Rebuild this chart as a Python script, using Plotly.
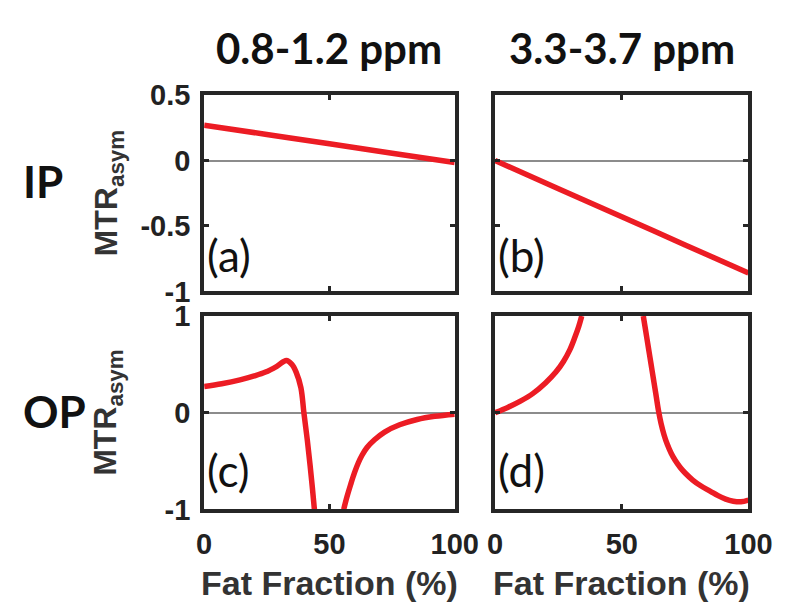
import plotly.graph_objects as go

# ---- data ----
ff_a = [0, 25, 50, 75, 100]
mtr_a = [0.27, 0.199, 0.128, 0.056, -0.015]

ff_b = [0, 25, 50, 75, 100]
mtr_b = [0.0, -0.215, -0.43, -0.645, -0.86]

ff_c1 = [0, 7, 14.3, 20, 24.5, 29, 32.8, 35, 36.7, 38.6, 39.8, 41.2, 42.3, 43.2, 44]
mtr_c1 = [0.27, 0.30, 0.34, 0.38, 0.42, 0.48, 0.54, 0.50, 0.42, 0.26, 0.0, -0.29, -0.55, -0.78, -1.0]
ff_c2 = [55.7, 57, 58.5, 60, 61.5, 63, 65, 68, 72, 78, 85, 92, 100]
mtr_c2 = [-1.0, -0.87, -0.74, -0.62, -0.52, -0.44, -0.36, -0.28, -0.20, -0.125, -0.07, -0.037, -0.015]

ff_d1 = [0, 5, 10, 15, 20, 24, 27, 29.5, 31.5, 33, 34.2]
mtr_d1 = [0.0, 0.055, 0.12, 0.20, 0.31, 0.42, 0.53, 0.65, 0.78, 0.89, 1.0]
ff_d2 = [58.5, 59.5, 60.5, 61.5, 62.5, 63.5, 64.5, 65.5, 66.7, 68, 69.5, 71, 73, 75, 78, 81, 85, 88, 91, 94, 97, 100]
mtr_d2 = [1.0, 0.837, 0.674, 0.511, 0.348, 0.185, 0.02, -0.11, -0.23, -0.33, -0.42, -0.49, -0.564, -0.624, -0.696,
          -0.753, -0.813, -0.858, -0.894, -0.915, -0.921, -0.903]

col_titles = ["0.8-1.2 ppm", "3.3-3.7 ppm"]
row_titles = ["IP", "OP"]
panel_labels = ["(a)", "(b)", "(c)", "(d)"]
x_ticks = [0, 50, 100]
y_ticks_top = [-1, -0.5, 0, 0.5]
y_ticks_top_text = ["-1", "-0.5", "0", "0.5"]
y_ticks_bot = [-1, 0, 1]
y_ticks_bot_text = ["-1", "0", "1"]
x_label = "Fat Fraction (%)"
y_label = "MTR<sub>asym</sub>"

# ---- layout geometry (pixels in an 800x616 canvas) ----
W, H = 800, 616
def px(x):
    return x / W
def py(y):
    return 1 - y / H

col_x = [(196, 457), (499, 763)]
row_y = [(75, 282), (308, 512)]

RED = "#ec1c24"
FRAME = "#262626"
SANS = "Liberation Sans Narrow, Arial Narrow, Liberation Sans, Arial, sans-serif"
CAL = "Lato, Open Sans, sans-serif"
TICKFONT = dict(family=SANS, size=29, color="#222222", weight="bold")

fig = go.Figure()

series = [
    [(ff_a, mtr_a)],
    [(ff_b, mtr_b)],
    [(ff_c1, mtr_c1), (ff_c2, mtr_c2)],
    [(ff_d1, mtr_d1), (ff_d2, mtr_d2)],
]

for i in range(4):
    r, c = divmod(i, 2)
    ax = "" if i == 0 else str(i + 1)
    for xs, ys in series[i]:
        fig.add_trace(go.Scatter(x=xs, y=ys, mode="lines",
                                 line=dict(color=RED, width=5.5, shape="spline", smoothing=1.0),
                                 xaxis="x" + ax, yaxis="y" + ax, showlegend=False, hoverinfo="skip"))
    xd = [px(col_x[c][0]), px(col_x[c][1])]
    yd = [py(row_y[r][1]), py(row_y[r][0])]
    top = r == 0
    fig.layout["xaxis" + ax] = dict(
        domain=xd, anchor="y" + ax, range=[0, 100], tickvals=x_ticks,
        showticklabels=(not top), ticks="inside", ticklen=5, tickwidth=3, tickcolor=FRAME,
        showline=True, linewidth=4, linecolor=FRAME, mirror="ticks", showgrid=False,
        zeroline=False, tickfont=TICKFONT, fixedrange=True, ticklabelstandoff=6,
    )
    fig.layout["yaxis" + ax] = dict(
        domain=yd, anchor="x" + ax,
        range=[-1, 0.5] if top else [-1, 1],
        tickvals=y_ticks_top if top else y_ticks_bot,
        ticktext=y_ticks_top_text if top else y_ticks_bot_text,
        showticklabels=(c == 0), ticks="inside", ticklen=5, tickwidth=3, tickcolor=FRAME,
        showline=True, linewidth=4, linecolor=FRAME, mirror="ticks", showgrid=False,
        zeroline=True, zerolinecolor="#8c8c8c", zerolinewidth=2,
        tickfont=TICKFONT, fixedrange=True, ticklabelstandoff=4,
    )

ann = []
# column titles
for c in range(2):
    ann.append(dict(text=col_titles[c], x=px((col_x[c][0] + col_x[c][1]) / 2), y=py(25),
                    xref="paper", yref="paper", showarrow=False, xanchor="center", yanchor="middle",
                    font=dict(family=CAL, size=42, color="#111111", weight="bold")))
# row titles and y labels
for r in range(2):
    ann.append(dict(text=row_titles[r], x=px(5), y=py(166 if r == 0 else 408),
                    xref="paper", yref="paper", showarrow=False, xanchor="left", yanchor="middle",
                    font=dict(family=CAL, size=44, color="#111111", weight="bold")))
    ann.append(dict(text=y_label, x=px(96), y=py((row_y[r][0] + row_y[r][1]) / 2),
                    xref="paper", yref="paper", showarrow=False, xanchor="center", yanchor="middle",
                    textangle=-90,
                    font=dict(family=SANS, size=32, color="#333333", weight="bold")))
# x labels
for c in range(2):
    ann.append(dict(text=x_label, x=px((col_x[c][0] + col_x[c][1]) / 2), y=py(590),
                    xref="paper", yref="paper", showarrow=False, xanchor="center", yanchor="middle",
                    font=dict(family=SANS, size=34, color="#333333", weight="bold")))
# panel letters
for i in range(4):
    r, c = divmod(i, 2)
    ann.append(dict(text=panel_labels[i], x=px(col_x[c][0] + 1), y=py(row_y[r][1] - (38 if r == 0 else 42)),
                    xref="paper", yref="paper", showarrow=False, xanchor="left", yanchor="middle",
                    font=dict(family=CAL, size=44, color="#111111")))

fig.update_layout(
    width=W, height=H, margin=dict(l=0, r=0, t=0, b=0),
    paper_bgcolor="white", plot_bgcolor="white",
    annotations=ann, showlegend=False,
)

fig.write_html("out.html")
